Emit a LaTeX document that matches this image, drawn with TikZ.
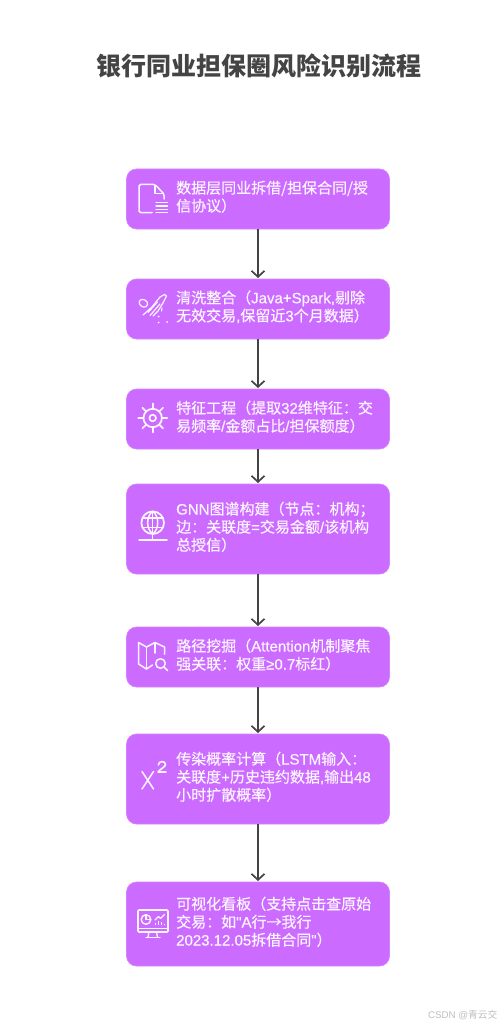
\documentclass[tikz,border=0pt]{standalone}
\usepackage{fontspec}
\setmainfont{Noto Sans CJK SC}
\newfontfamily\cjkm[FakeBold=0.35]{Noto Sans CJK SC}
\newfontfamily\latf[FakeBold=0.35]{Liberation Sans}
\newfontfamily\latp{Liberation Sans}
\newcommand{\lat}[1]{{\latf #1}}
\usetikzlibrary{arrows.meta,calc}
\definecolor{boxc}{HTML}{CC6BFF}
\definecolor{txtc}{HTML}{FDF5FF}
\definecolor{darkc}{HTML}{444444}
\tikzset{
  stepbox/.style={draw=boxc!85!white,line width=0.6pt,fill=boxc,rounded corners=10pt,minimum width=263pt,inner sep=0pt,outer sep=0pt},
  steptext/.style={anchor=west,align=left,text=txtc,inner sep=0pt,font=\cjkm\fontsize{15}{18}\selectfont},
  conn/.style={draw=darkc,line width=1.7pt,-{Straight Barb[length=6pt,width=13pt,line width=1.7pt]},shorten >=1pt},
  ico/.style={draw=txtc,line width=1.5pt,line cap=round,line join=round},
}
\begin{document}
\begin{tikzpicture}[x=1pt,y=-1pt]
\useasboundingbox (0,0) rectangle (498,1027);
\fill[white] (0,0) rectangle (498,1027);
\node[font=\bfseries\fontsize{25}{28}\selectfont,text=darkc] (title) at (258.5,65.5) {银行同业担保圈风险识别流程};
% boxes
\node[stepbox,minimum height=60pt] (b1) at (258,199) {};
\node[stepbox,minimum height=60pt] (b2) at (258,309) {};
\node[stepbox,minimum height=60pt] (b3) at (258,419) {};
\node[stepbox,minimum height=90pt] (b4) at (258,529) {};
\node[stepbox,minimum height=60pt] (b5) at (258,657) {};
\node[stepbox,minimum height=90pt] (b6) at (258,779) {};
\node[stepbox,minimum height=84pt] (b7) at (258,924) {};
% texts
\node[steptext] (t1) at (176,196.8) {数据层同业拆借/担保合同/授\\信协议）};
\node[steptext] (t2) at (176,306.8) {清洗整合（\lat{Java+Spark,}剔除\\无效交易\lat{,}保留近\lat{3}个月数据）};
\node[steptext] (t3) at (176,416.8) {特征工程（提取\lat{32}维特征：交\\易频率\lat{/}金额占比\lat{/}担保额度）};
\node[steptext] (t4) at (176,526.8) {\lat{GNN}图谱构建（节点：机构；\\边：关联度\lat{=}交易金额\lat{/}该机构\\总授信）};
\node[steptext] (t5) at (176,654.8) {路径挖掘（\lat{Attention}机制聚焦\\强关联：权重\lat{≥0.7}标红）};
\node[steptext] (t6) at (176,776.8) {传染概率计算（\lat{LSTM}输入：\\关联度\lat{+}历史违约数据\lat{,}输出\lat{48}\\小时扩散概率）};
\node[steptext] (t7) at (176,921.8) {可视化看板（支持点击查原始\\交易：如\lat{"A}行→我行\\\lat{2023.12.05}拆借合同\lat{"}）};
% connectors
\draw[conn] (b1) -- (b2);
\draw[conn] (b2) -- (b3);
\draw[conn] (b3) -- (b4);
\draw[conn] (b4) -- (b5);
\draw[conn] (b5) -- (b6);
\draw[conn] (b6) -- (b7);
% icon 1: document
\draw[ico,rounded corners=1.5pt] (152,212.5) -- (139,212.5) -- (139,184.5) -- (155,184.5) -- (164,194) -- (164,199);
\draw[ico] (155,186) -- (155,193.5) -- (163.5,193.5);
\foreach \yy in {202.5,205.9,209.2,212.5} \draw[ico,line width=1.2pt] (156,\yy) -- (167.5,\yy);
% icon 2: broom
\draw[ico,line width=1.2pt] (147.5,304.5) .. controls (146,309) and (141,307) .. (139.5,304) .. controls (138,300) and (142,298.5) .. (145,300) .. controls (147,301) and (148,303) .. (147.5,304.5);
\draw[ico,line width=1.2pt] (160,297) -- (164.5,294.5) -- (166.5,296) -- (163,303);
\draw[ico,line width=1.2pt] (160,297) -- (152,307) -- (143,315);
\draw[ico,line width=1.2pt] (163,303) -- (158,311) -- (153,316);
\draw[ico,line width=1.2pt] (157.5,302) -- (148,312.5);
\draw[ico,line width=1.2pt] (160,304) -- (150,315.5);
\fill[txtc] (158.5,316.5) circle (1) (167,322) circle (1) (158.5,322.5) circle (1);
\draw[ico,line width=1.1pt] (162,308) -- (161.5,311);
% icon 3: gear
\draw[ico,line width=1.7pt] (152.7,418) circle (9.2);
\draw[ico,line width=1.7pt] (152.7,418) circle (3.3);
\foreach \a in {0,45,...,315} \draw[ico,line width=1.7pt] ($(152.7,418)+(\a:9.2)$) -- ($(152.7,418)+(\a:14.5)$);
% icon 4: globe
\draw[ico,line width=1.7pt] (152.7,522.7) circle (11.3);
\draw[ico] (152.7,511.4) .. controls (146,516) and (146,529) .. (152.7,534);
\draw[ico] (152.7,511.4) .. controls (159.4,516) and (159.4,529) .. (152.7,534);
\draw[ico] (152.7,511.4) -- (152.7,540);
\draw[ico] (142.5,518) -- (163,518);
\draw[ico] (142.5,527.5) -- (163,527.5);
\draw[ico] (139,540) -- (167,540);
% icon 5: map + lens
\draw[ico] (138.5,642.5) -- (146.5,647) -- (155,642.5) -- (164.5,647) -- (164.5,654);
\draw[ico] (138.5,642.5) -- (138.5,664) -- (146.5,669) -- (152.5,665);
\draw[ico] (146.5,647) -- (146.5,669);
\draw[ico] (155,642.5) -- (155,653);
\draw[ico] (160.5,663.5) circle (4.8);
\draw[ico] (164,667) -- (167.5,670.5);
% icon 6: chi squared
\draw[ico] (142,771.5) -- (153.5,789);
\draw[ico] (153.5,771.5) -- (142,789);
\draw[ico,line width=1.6pt] (158.3,765) .. controls (158.5,760.5) and (165.5,760.5) .. (165.5,764.5) .. controls (165.5,767) and (160,769) .. (158,772) -- (166,772);
% icon 7: dashboard monitor
\draw[ico,line width=1.7pt,rounded corners=1pt] (138,910) rectangle (168,932);
\draw[ico,line width=1.3pt] (138,928.3) -- (168,928.3);
\draw[ico,line width=1.3pt] (149,932) -- (148,937) (156.5,932) -- (157.5,937);
\draw[ico,line width=1.3pt] (146,937.3) -- (160,937.3);
\draw[ico,line width=1.4pt] (146,919.5) circle (4.8);
\draw[ico,line width=1.3pt] (146,919.5) -- (146,914.7) (146,919.5) -- (150.8,919.5);
\draw[ico,line width=1.3pt] (155,920) -- (158.5,916.5) -- (160.5,918.5) -- (164.5,914.5);
\draw[ico,line width=1.5pt,line cap=butt] (155.5,925) -- (155.5,923) (158.5,925) -- (158.5,920.5) (161.5,925) -- (161.5,922) (164.5,925) -- (164.5,923.5);
% watermark
\node[anchor=east,inner sep=0pt,text=black!25,font=\fontsize{9.7}{11}\selectfont] (wm) at (497.5,1015) {{\latp CSDN @}青云交};
\end{tikzpicture}
\end{document}
